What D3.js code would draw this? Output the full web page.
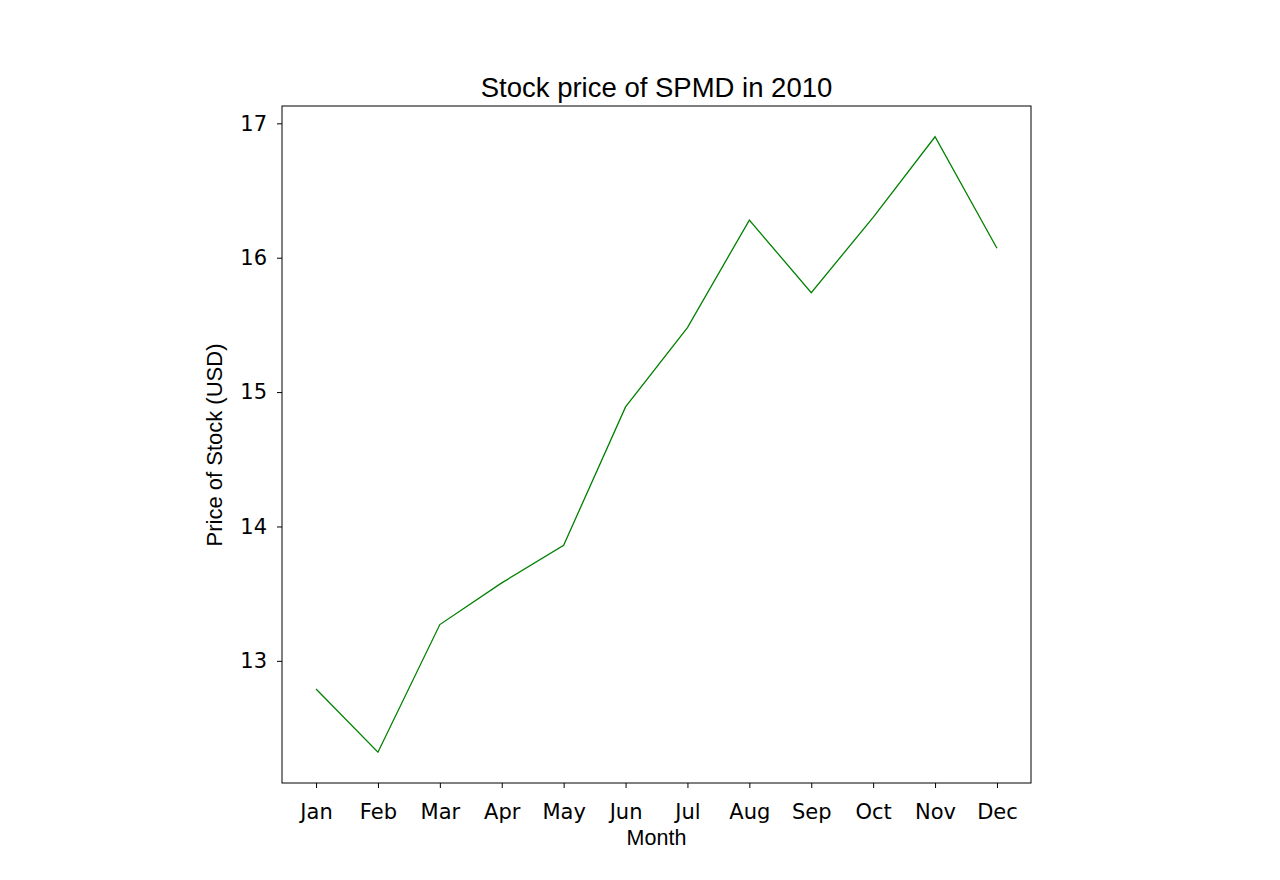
<!DOCTYPE html>
<html>
<head>
<meta charset="utf-8">
<script src="https://cdn.jsdelivr.net/npm/d3@7"></script>
<style>
  body { margin: 0; background: #fff; }
  .tick text { font-family: "DejaVu Sans", sans-serif; font-size: 21px; fill: #000; }
</style>
</head>
<body>
<svg id="chart" width="1280" height="880"></svg>
<script>
// values
const months = ['Jan', 'Feb', 'Mar', 'Apr', 'May', 'Jun', 'Jul', 'Aug', 'Sep', 'Oct', 'Nov', 'Dec'];
const prices = [12.79, 12.32, 13.27, 13.58, 13.86, 14.89, 15.48, 16.28, 15.74, 16.30, 16.90, 16.07];
const yTicks = [13, 14, 15, 16, 17];

const margin = { top: 106, right: 249, bottom: 97, left: 282 };
const width = 1280 - margin.left - margin.right;
const height = 880 - margin.top - margin.bottom;

const svg = d3.select('#chart')
  .append('g')
  .attr('transform', `translate(${margin.left},${margin.top})`);

const x = d3.scaleLinear()
  .domain([-0.55, months.length - 1 + 0.55])
  .range([0, width]);

const ymin = d3.min(prices), ymax = d3.max(prices), pad = (ymax - ymin) * 0.05;
const y = d3.scaleLinear()
  .domain([ymin - pad, ymax + pad])
  .range([height, 0]);

const xAxis = d3.axisBottom(x)
  .tickValues(d3.range(months.length))
  .tickFormat(i => months[i])
  .tickSize(5).tickPadding(16);

const yAxis = d3.axisLeft(y)
  .tickValues(yTicks)
  .tickFormat(d3.format('d'))
  .tickSize(5).tickPadding(10);

const gx = svg.append('g')
  .attr('transform', `translate(0,${height})`)
  .call(xAxis);
const gy = svg.append('g').call(yAxis);
[gx, gy].forEach(g => {
  g.select('.domain').remove();
  g.selectAll('.tick line').attr('stroke', '#000');
});

//frame round the plot
svg.append('rect')
  .attr('width', width).attr('height', height)
  .attr('fill', 'none').attr('stroke', '#000').attr('stroke-width', 1);

const line = d3.line()
  .x((d, i) => x(i))
  .y(d => y(d));

svg.append('path')
  .datum(prices)
  .attr('d', line)
  .attr('fill', 'none')
  .attr('stroke', 'green')
  .attr('stroke-width', 1.3);

svg.append('text')
  .attr('x', width / 2).attr('y', -9)
  .attr('text-anchor', 'middle')
  .style('font-family', '"Liberation Sans", Arial, sans-serif')
  .style('font-size', '27.5px')
  .text('Stock price of SPMD in 2010');

svg.append('text')
  .attr('x', width / 2).attr('y', height + 62)
  .attr('text-anchor', 'middle')
  .style('font-family', '"Liberation Sans", Arial, sans-serif')
  .style('font-size', '21.5px')
  .text('Month');

svg.append('text')
  .attr('transform', 'rotate(-90)')
  .attr('x', -339).attr('y', -60)
  .attr('text-anchor', 'middle')
  .style('font-family', '"Liberation Sans", Arial, sans-serif')
  .style('font-size', '22px')
  .text('Price of Stock (USD)');
</script>
</body>
</html>
